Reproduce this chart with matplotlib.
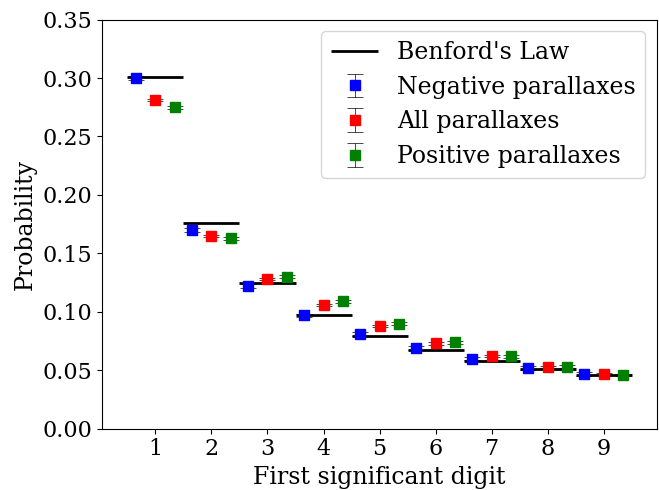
import numpy as np
import matplotlib
matplotlib.use("Agg")
import matplotlib.pyplot as plt

digits = np.arange(1, 10)
benford = np.log10(1 + 1 / digits)
p_negative = [0.300, 0.170, 0.122, 0.097, 0.081, 0.069, 0.060, 0.052, 0.047]
p_all = [0.281, 0.165, 0.128, 0.106, 0.088, 0.073, 0.062, 0.053, 0.047]
p_positive = [0.275, 0.163, 0.130, 0.109, 0.090, 0.074, 0.062, 0.053, 0.046]
err_negative = [0.0015] * 9
err_all = [0.001] * 9
err_positive = [0.0012] * 9

plt.rcParams['font.family'] = 'DejaVu Serif'
plt.rcParams['font.size'] = 17
plt.rcParams['xtick.labelsize'] = 16
plt.rcParams['ytick.labelsize'] = 16

fig, ax = plt.subplots(figsize=(6.59, 4.9), dpi=100)

ax.hlines(benford, digits - 0.5, digits + 0.5, color='k', lw=2, label="Benford's Law")
ax.errorbar(digits - 0.35, p_negative, yerr=err_negative, fmt='s', color='b',
            ecolor='k', elinewidth=0.5, capsize=6, capthick=0.5, ms=7,
            label='Negative parallaxes')
ax.errorbar(digits, p_all, yerr=err_all, fmt='s', color='r',
            ecolor='k', elinewidth=0.5, capsize=6, capthick=0.5, ms=7,
            label='All parallaxes')
ax.errorbar(digits + 0.35, p_positive, yerr=err_positive, fmt='s', color='g',
            ecolor='k', elinewidth=0.5, capsize=6, capthick=0.5, ms=7,
            label='Positive parallaxes')

ax.set_ylim(0, 0.35)
ax.set_xticks(digits)
ax.set_xlabel('First significant digit')
ax.set_ylabel('Probability')
ax.legend(loc='upper right')

fig.subplots_adjust(left=0.155, right=0.997, top=0.96, bottom=0.125)
fig.savefig('out.png')
